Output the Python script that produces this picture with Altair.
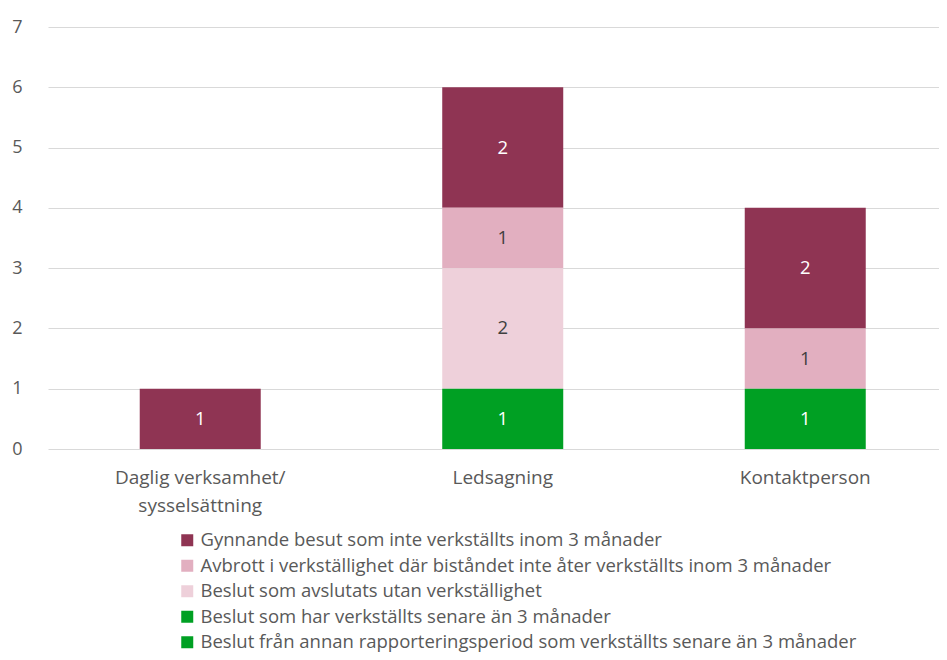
import altair as alt
import pandas as pd

categories = ["Daglig verksamhet/ sysselsättning", "Ledsagning", "Kontaktperson"]
series = [
    "Gynnande besut som inte verkställts inom 3 månader",
    "Avbrott i verkställighet där biståndet inte åter verkställts inom 3 månader",
    "Beslut som avslutats utan verkställighet",
    "Beslut som har verkställts senare än 3 månader",
    "Beslut från annan rapporteringsperiod som verkställts senare än 3 månader",
]
colors = ["#8F3453", "#E2AFC0", "#EED0DA", "#00A023", "#00A023"]

# values[series][category]
values = {
    series[0]: [1, 2, 2],
    series[1]: [0, 1, 1],
    series[2]: [0, 2, 0],
    series[3]: [0, 1, 1],
    series[4]: [0, 0, 0],
}

rows = []
for si, s in enumerate(series):
    for ci, c in enumerate(categories):
        v = values[s][ci]
        if v > 0:
            rows.append({"kategori": c, "serie": s, "antal": v, "ordning": len(series) - si})
df = pd.DataFrame(rows)

FONT = "Open Sans"
LABEL_GRAY = "#595959"

base = alt.Chart(df).transform_stack(
    stack="antal", groupby=["kategori"], as_=["y0", "y1"],
    sort=[alt.SortField("ordning", order="ascending")],
).transform_calculate(mid="(datum.y0 + datum.y1) / 2")

x_enc = alt.X(
    "kategori:N", sort=categories, title=None,
    scale=alt.Scale(paddingInner=0.6, paddingOuter=0.2727, align=0.556),
    axis=alt.Axis(
        labelAngle=0, domain=False, ticks=False, labelPadding=19,
        labelFontSize=19, labelColor=LABEL_GRAY, labelFont=FONT, labelLineHeight=28,
        labelExpr="indexof(datum.label,'/')>0 ? [slice(datum.label,0,indexof(datum.label,'/')+1), slice(datum.label,indexof(datum.label,'/')+2)] : datum.label",
    ),
)

bars = base.mark_bar().encode(
    x=x_enc,
    y=alt.Y("y0:Q", title=None,
            scale=alt.Scale(domain=[0, 7], nice=False),
            axis=alt.Axis(values=list(range(8)), format="d", domain=False, ticks=False, labelPadding=26,
                          labelFontSize=18, labelColor=LABEL_GRAY, labelFont=FONT,
                          grid=True, gridColor="#D9D9D9", gridWidth=1)),
    y2="y1:Q",
    color=alt.Color("serie:N", scale=alt.Scale(domain=series, range=colors),
                    legend=alt.Legend(title=None, orient="none", legendX=130, legendY=504,
                                      direction="vertical", symbolType="square", symbolSize=144,
                                      symbolStrokeWidth=0, symbolOpacity=1,
                                      labelFontSize=18.5, labelFont=FONT, labelColor=LABEL_GRAY,
                                      rowPadding=6.5, labelOffset=4, labelLimit=0)),
)

texts = base.mark_text(fontSize=18.5, font=FONT).encode(
    x=alt.X("kategori:N", sort=categories),
    y=alt.Y("mid:Q"),
    text=alt.Text("antal:Q"),
    color=alt.condition(
        alt.FieldOneOfPredicate(field="serie", oneOf=[series[1], series[2]]),
        alt.value("#404040"), alt.value("white")),
)

chart = alt.layer(bars, texts).properties(
    width=891, height=422,
    autosize=alt.AutoSizeParams(type="none"),
    padding={"top": 19, "left": 40, "right": 0, "bottom": 203},
).configure_view(stroke=None).configure_axis(gridColor="#D9D9D9")

chart.save("out.html", embed_options={"renderer": "svg", "actions": False})
